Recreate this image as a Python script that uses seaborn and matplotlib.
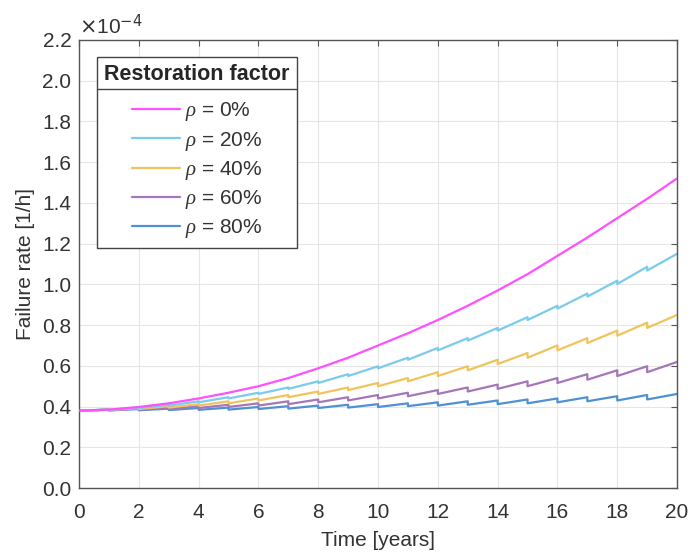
import numpy as np
import pandas as pd
import matplotlib
matplotlib.use("Agg")
import matplotlib.pyplot as plt
import seaborn as sns
from matplotlib.lines import Line2D

# values in units of 1e-4 1/h
years = list(range(21))
rate_0 = [0.380, 0.385, 0.398, 0.416, 0.440, 0.468, 0.500, 0.540, 0.588, 0.640, 0.700,
          0.760, 0.825, 0.895, 0.970, 1.050, 1.140, 1.230, 1.325, 1.420, 1.520]

# sawtooth series: value at start of each year (after restoration) and at its end
start_20 = [0.380, 0.384, 0.393, 0.405, 0.421, 0.440, 0.462, 0.487, 0.516, 0.550,
            0.588, 0.630, 0.676, 0.724, 0.773, 0.825, 0.881, 0.940, 1.002, 1.068]
end_20 = [0.385, 0.395, 0.409, 0.426, 0.446, 0.468, 0.494, 0.524, 0.559, 0.598,
          0.640, 0.688, 0.736, 0.786, 0.839, 0.895, 0.955, 1.018, 1.086, 1.150]
start_40 = [0.380, 0.383, 0.388, 0.395, 0.405, 0.416, 0.430, 0.446, 0.462, 0.481,
            0.500, 0.524, 0.550, 0.578, 0.609, 0.640, 0.676, 0.712, 0.748, 0.786]
end_40 = [0.385, 0.393, 0.402, 0.412, 0.426, 0.440, 0.457, 0.474, 0.494, 0.516,
          0.540, 0.569, 0.598, 0.630, 0.663, 0.700, 0.736, 0.773, 0.812, 0.850]
start_60 = [0.380, 0.382, 0.384, 0.388, 0.393, 0.398, 0.405, 0.412, 0.421, 0.430,
            0.440, 0.451, 0.462, 0.474, 0.487, 0.500, 0.516, 0.532, 0.550, 0.569]
end_60 = [0.385, 0.390, 0.395, 0.402, 0.409, 0.416, 0.426, 0.435, 0.446, 0.457,
          0.468, 0.481, 0.494, 0.508, 0.524, 0.540, 0.559, 0.578, 0.598, 0.619]
start_80 = [0.380, 0.381, 0.382, 0.383, 0.384, 0.385, 0.388, 0.390, 0.393, 0.395,
            0.398, 0.402, 0.405, 0.409, 0.412, 0.416, 0.421, 0.426, 0.430, 0.435]
end_80 = [0.385, 0.388, 0.390, 0.393, 0.395, 0.398, 0.402, 0.405, 0.409, 0.412,
          0.416, 0.421, 0.426, 0.430, 0.435, 0.440, 0.446, 0.451, 0.457, 0.462]

labels = [r"$\rho$ = 0%", r"$\rho$ = 20%", r"$\rho$ = 40%", r"$\rho$ = 60%", r"$\rho$ = 80%"]
colors = ["#FF4FFF", "#7ACBEC", "#F0C45C", "#A576B8", "#4F91D3"]

rows = []
for t, v in zip(years, rate_0):
    rows.append((labels[0], t, v))
for lab, st, en in zip(labels[1:], [start_20, start_40, start_60, start_80],
                       [end_20, end_40, end_60, end_80]):
    for k in range(20):
        rows.append((lab, k, st[k]))
        rows.append((lab, k + 1, en[k]))
df = pd.DataFrame(rows, columns=["series", "time", "rate"])

sns.set_style("white")
plt.rcParams["font.family"] = ["Liberation Sans", "DejaVu Sans"]
plt.rcParams["mathtext.fontset"] = "custom"
plt.rcParams["mathtext.it"] = "Liberation Serif:italic"

fs = 15
fig = plt.figure(figsize=(6.93, 5.54), dpi=100)
ax = fig.add_axes([0.114, 0.119, 0.863, 0.809])

sns.lineplot(data=df, x="time", y="rate", hue="series", hue_order=labels[::-1],
             palette=dict(zip(labels, colors)), sort=False, estimator=None,
             linewidth=1.6, ax=ax, legend=False)
# pink on top, as in the reference
for line in ax.get_lines():
    line.set_zorder(2)
ax.get_lines()[-1].set_zorder(3)

ax.set_xlim(0, 20)
ax.set_ylim(0, 2.2)
ax.set_xticks(range(0, 21, 2))
ax.set_yticks(np.arange(0, 2.21, 0.2))
ax.set_yticklabels([f"{v:.1f}" for v in np.arange(0, 2.21, 0.2)])
ax.grid(True, color="#e6e6e6", linewidth=0.8)
ax.set_axisbelow(True)
for s in ax.spines.values():
    s.set_color("#555555")
    s.set_linewidth(1.0)
ax.tick_params(direction="in", length=4, top=True, right=True, colors="#555555",
               labelcolor="#333333", labelsize=fs)
ax.tick_params(axis="x", pad=11)
ax.tick_params(axis="y", pad=5.5)
ax.set_xlabel("Time [years]", fontsize=fs, color="#333333", labelpad=6)
ax.set_ylabel("Failure rate [1/h]", fontsize=fs, color="#333333", labelpad=5)
ax.text(0.0, 1.005, r"$\times$10$^{-4}$", transform=ax.transAxes, fontsize=fs,
        color="#333333", ha="left", va="bottom")

handles = [Line2D([], [], color=c, linewidth=1.6) for c in colors]
leg = ax.legend(handles, labels, title="Restoration factor", loc="upper left",
                bbox_to_anchor=(0.030, 0.962), fontsize=fs, frameon=True,
                fancybox=False, edgecolor="#444444", framealpha=1,
                handlelength=2.3, handletextpad=0.25, labelspacing=0.3,
                borderpad=0.35, borderaxespad=0,
                title_fontproperties={"weight": "bold", "size": 15.5})
leg.get_frame().set_linewidth(1.0)
leg._legend_box.sep = 11
for t in leg.get_texts():
    t.set_color("#333333")

# separator line under the legend title
fig.canvas.draw()
fb = leg.get_frame().get_window_extent()
tb = leg.get_title().get_window_extent()
yline = tb.y0 - 4
inv = fig.transFigure.inverted()
(x0, y0), (x1, _) = inv.transform([(fb.x0, yline), (fb.x1, yline)])
fig.add_artist(Line2D([x0, x1], [y0, y0], color="#444444", linewidth=1.0))

fig.savefig("out.png", dpi=100)
